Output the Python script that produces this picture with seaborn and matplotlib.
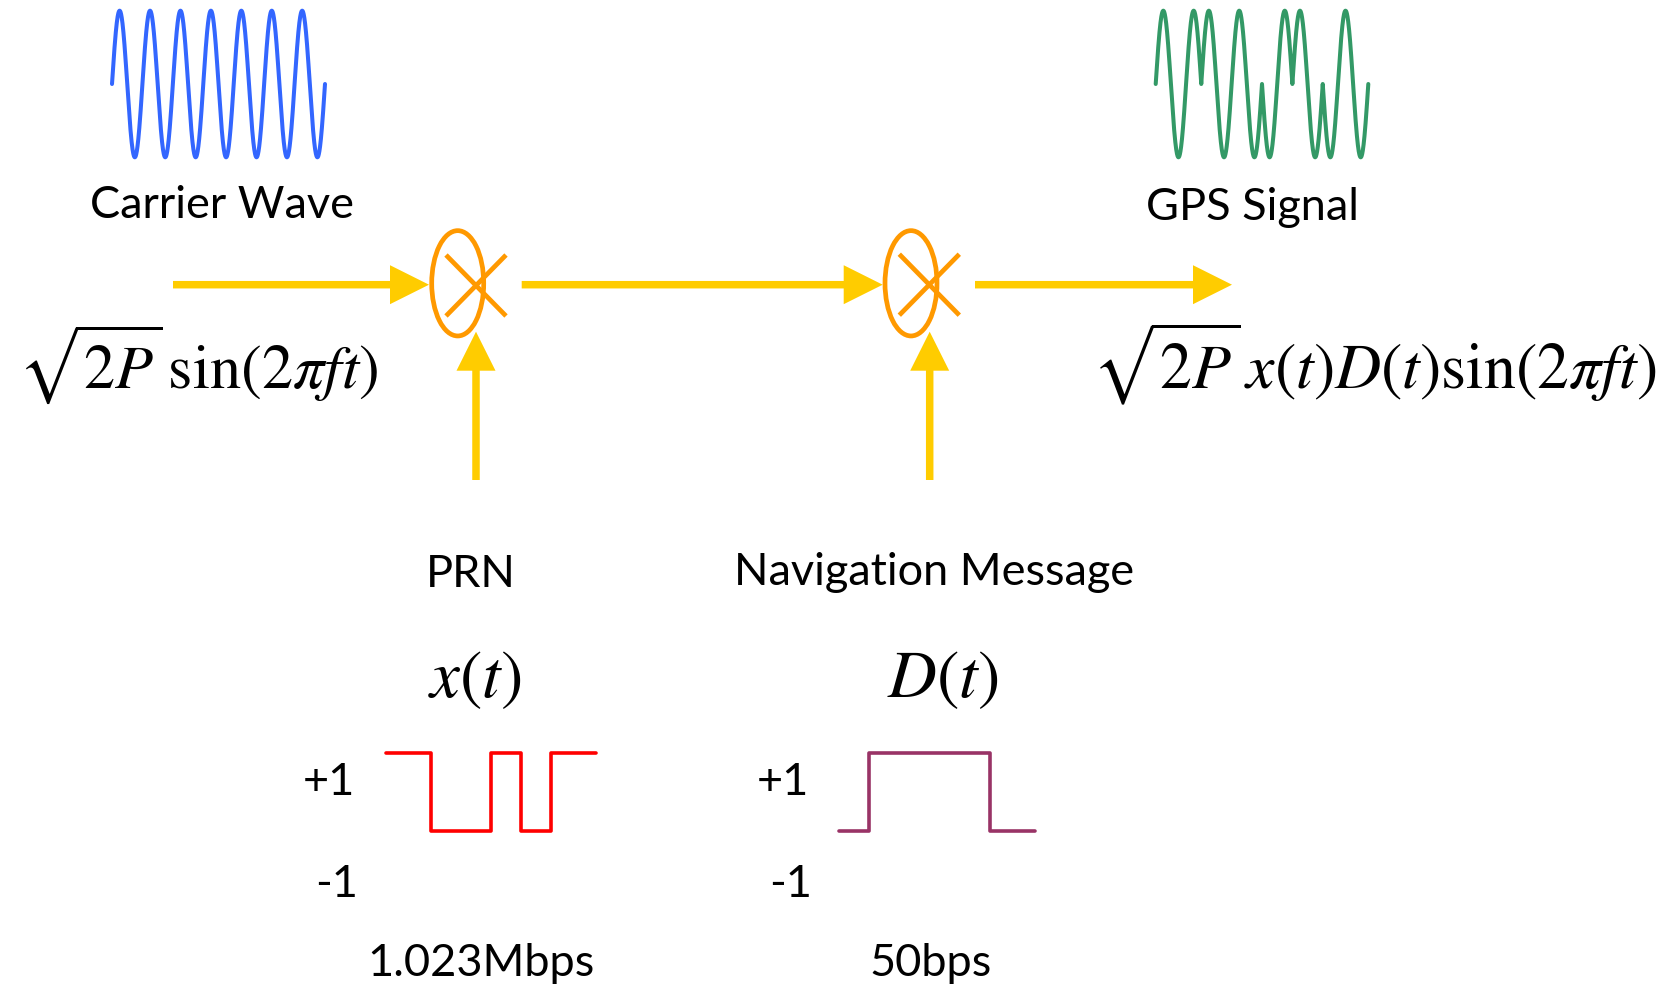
import numpy as np
import pandas as pd
import matplotlib
matplotlib.use("Agg")
import matplotlib.pyplot as plt
import seaborn as sns
from matplotlib.patches import Ellipse, FancyArrow

sns.set_theme(style="white")
plt.rcParams["font.family"] = ["Lato", "DejaVu Sans"]
plt.rcParams["mathtext.fontset"] = "stix"

# ---------------- data ----------------
carrier_cycles = 7
# PRN chips, one chip per half carrier cycle
prn_chips = [1, 1, 1, -1, -1, -1, -1, 1, 1, -1, -1, 1, 1, 1]
# navigation message bits (same time slot width as PRN chips in the sketch)
nav_bits = [-1, -1, 1, 1, 1, 1, 1, 1, 1, 1, -1, -1, -1]
level_labels = ["+1", "-1"]
label_carrier = "Carrier Wave"
label_gps = "GPS Signal"
label_prn = "PRN"
label_nav = "Navigation Message"
rate_prn = "1.023Mbps"
rate_nav = "50bps"
eq_carrier = r"$\sqrt{2P}\,\sin(2\pi ft)$"
eq_gps = r"$\sqrt{2P}\,x(t)D(t)\sin(2\pi ft)$"
eq_prn = r"$x(t)$"
eq_nav = r"$D(t)$"

# ---------------- styles ----------------
W, H = 1665, 988
BLUE = "#3366FF"
GREEN = "#339966"
ORANGE = "#FF9900"
GOLD = "#FFCC00"
RED = "#FF0000"
PURPLE = "#993366"
SANS_SIZE = 32.5

fig = plt.figure(figsize=(W / 100, H / 100), dpi=100)
fig.patch.set_facecolor("white")


def px_axes(x0, x1, y_top, y_bot, xlim, ylim):
    a = fig.add_axes([x0 / W, 1 - y_bot / H, (x1 - x0) / W, (y_bot - y_top) / H])
    a.set_xlim(*xlim)
    a.set_ylim(*ylim)
    a.axis("off")
    return a


# carrier wave
t = np.linspace(0, carrier_cycles, 2801)
carrier = pd.DataFrame({"t": t, "v": np.sin(2 * np.pi * t)})
ax_c = px_axes(112, 325, 10.7, 157.3, (0, carrier_cycles), (-1, 1))
sns.lineplot(data=carrier, x="t", y="v", sort=False, estimator=None,
             color=BLUE, linewidth=2.9, ax=ax_c, clip_on=False)

# GPS signal = carrier * PRN
idx = np.clip(np.floor(2 * t).astype(int), 0, len(prn_chips) - 1)
gps = pd.DataFrame({"t": t, "v": np.sin(2 * np.pi * t) * np.array(prn_chips)[idx]})
ax_g = px_axes(1155.7, 1368.3, 10.7, 157.3, (0, carrier_cycles), (-1, 1))
sns.lineplot(data=gps, x="t", y="v", sort=False, estimator=None,
             color=GREEN, linewidth=2.9, ax=ax_g, clip_on=False)


def step_frame(levels):
    xs, ys = [], []
    for i, v in enumerate(levels):
        xs += [i, i + 1]
        ys += [v, v]
    return pd.DataFrame({"t": xs, "v": ys})


ax_p = px_axes(386, 596, 753.3, 830.7, (0, len(prn_chips)), (-1, 1))
sns.lineplot(data=step_frame(prn_chips), x="t", y="v", sort=False, estimator=None,
             color=RED, linewidth=2.6, ax=ax_p, clip_on=False)
ax_n = px_axes(839.3, 1035, 753.3, 830.7, (0, len(nav_bits)), (-1, 1))
sns.lineplot(data=step_frame(nav_bits), x="t", y="v", sort=False, estimator=None,
             color=PURPLE, linewidth=2.6, ax=ax_n, clip_on=False)

# ---------------- overlay in pixel coordinates ----------------
ax = fig.add_axes([0, 0, 1, 1])
ax.set_xlim(0, W)
ax.set_ylim(H, 0)
ax.axis("off")
ax.patch.set_alpha(0)


def arrow(x0, y0, x1, y1):
    ax.add_patch(FancyArrow(x0, y0, x1 - x0, y1 - y0, width=7.5, head_width=39,
                            head_length=39, length_includes_head=True,
                            color=GOLD, lw=0))


arrow(173, 284.7, 429, 284.7)
arrow(521.7, 284.7, 882.7, 284.7)
arrow(975, 284.7, 1232, 284.7)
arrow(476, 480, 476, 331.7)
arrow(929.7, 480, 929.7, 331.7)

for ecx, xcx, xcy in [(457.7, 476, 285.5), (911, 929.3, 284.7)]:
    ax.add_patch(Ellipse((ecx, 283.3), 52, 105.3, fill=False, ec=ORANGE, lw=3.4))
    ax.plot([xcx - 30, xcx + 30], [xcy - 30.5, xcy + 30.5], color=ORANGE, lw=3.4,
            solid_capstyle="butt")
    ax.plot([xcx - 30, xcx + 30], [xcy + 30.5, xcy - 30.5], color=ORANGE, lw=3.4,
            solid_capstyle="butt")


def stext(x, y, s):
    ax.text(x, y, s, ha="center", va="baseline", fontsize=SANS_SIZE, color="black")


stext(221.7, 218.3, label_carrier)
stext(1253, 220, label_gps)
stext(470.4, 587, label_prn)
stext(934.5, 584.5, label_nav)
stext(481, 975.7, rate_prn)
stext(931, 975.7, rate_nav)
stext(329, 795, level_labels[0])
stext(337, 896.7, level_labels[1])
stext(782.6, 795, level_labels[0])
stext(791, 896.7, level_labels[1])

renderer = fig.canvas.get_renderer()


def fit_text(x, y, s, target_w, ha="left"):
    txt = ax.text(x, y, s, ha=ha, va="baseline", fontsize=40, color="black")
    w = txt.get_window_extent(renderer=renderer).width
    txt.set_fontsize(40 * target_w / w)
    return txt


fit_text(18, 388, eq_carrier, 360)
fit_text(1092, 388, eq_gps, 565)
fit_text(475, 697, eq_prn, 94, ha="center")
fit_text(943, 697, eq_nav, 112, ha="center")

fig.savefig("out.png", dpi=100, facecolor="white")
